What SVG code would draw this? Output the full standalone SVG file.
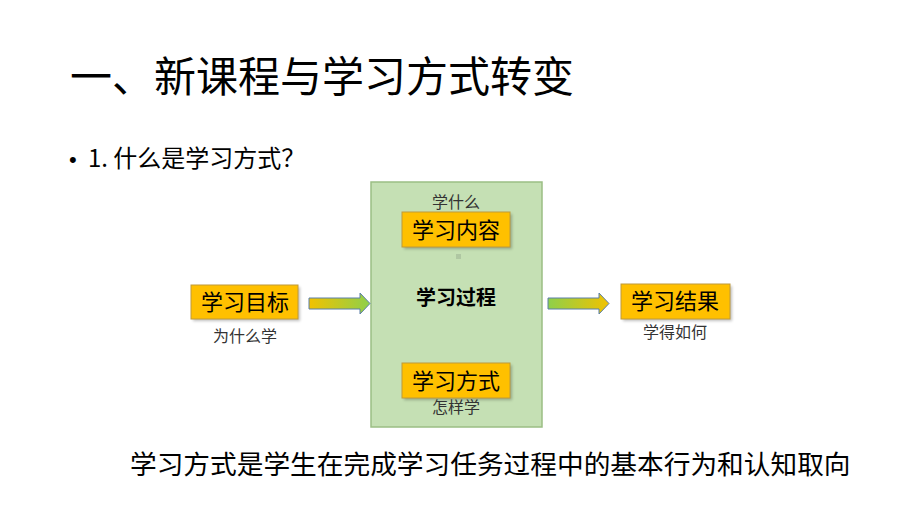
<svg xmlns="http://www.w3.org/2000/svg" width="920" height="518" viewBox="0 0 920 518">
<defs>
<style>
text{font-family:"Noto Sans CJK SC","Liberation Sans",sans-serif;fill:#000}
.box{fill:#FFC000;stroke:#BF9A3A;stroke-width:1}
.shadow{fill:#000;opacity:0.25}
.lbl{font-size:22px;text-anchor:middle}
.sub{font-size:16px;text-anchor:middle;fill:#333}
.arrow{stroke:#5B7FA8;stroke-width:1}
</style>
<linearGradient id="gOG" x1="0" y1="0" x2="1" y2="0">
<stop offset="0" stop-color="#F2C200"/>
<stop offset="1" stop-color="#8ED04A"/>
</linearGradient>
<linearGradient id="gGO" x1="0" y1="0" x2="1" y2="0">
<stop offset="0" stop-color="#8ED04A"/>
<stop offset="1" stop-color="#F2C200"/>
</linearGradient>
<filter id="sh" x="-10%" y="-10%" width="130%" height="140%">
<feGaussianBlur stdDeviation="1.5"/>
</filter>
</defs>
<rect width="920" height="518" fill="#fff"/>
<text x="70" y="92" font-size="42">一、新课程与学习方式转变</text>
<text x="69" y="167" font-size="24"><tspan font-family="Liberation Sans, sans-serif" font-size="22">•</tspan><tspan x="88">1. 什么是学习方式？</tspan></text>

<g id="process">
<rect x="371" y="182" width="171" height="245" fill="#C5E0B4" stroke="#9BBE84" stroke-width="1.5"/>
<rect x="456" y="254" width="5" height="5" fill="#AFC7A2"/>
<text x="456" y="305" font-size="20" font-weight="bold" text-anchor="middle">学习过程</text>
</g>

<g id="content">
<text x="456" y="208" class="sub">学什么</text>
<rect x="404" y="214" width="108" height="35" class="shadow" filter="url(#sh)"/>
<rect x="402" y="212" width="108" height="35" class="box"/>
<text x="456" y="238" class="lbl">学习内容</text>
</g>

<g id="method">
<rect x="404" y="365" width="108" height="35" class="shadow" filter="url(#sh)"/>
<rect x="402" y="363" width="108" height="35" class="box"/>
<text x="456" y="389" class="lbl">学习方式</text>
<text x="456" y="413" class="sub">怎样学</text>
</g>

<g id="goal">
<rect x="193" y="287" width="107" height="34" class="shadow" filter="url(#sh)"/>
<rect x="191" y="285" width="107" height="34" class="box"/>
<text x="245" y="310" class="lbl">学习目标</text>
<text x="245" y="342" class="sub">为什么学</text>
</g>

<g id="result">
<rect x="623" y="286" width="109" height="35" class="shadow" filter="url(#sh)"/>
<rect x="621" y="284" width="109" height="35" class="box"/>
<text x="675" y="309" class="lbl">学习结果</text>
<text x="675" y="338" class="sub">学得如何</text>
</g>

<g id="connectors">
<path d="M309,298 H360 V293 L370,303.5 L360,314 V309 H309 Z" fill="url(#gOG)" class="arrow"/>
<path d="M548,298 H599 V293 L609,303.5 L599,314 V309 H548 Z" fill="url(#gGO)" class="arrow"/>
</g>

<text x="130" y="474" font-size="26.7" fill="#111">学习方式是学生在完成学习任务过程中的基本行为和认知取向</text>
</svg>
